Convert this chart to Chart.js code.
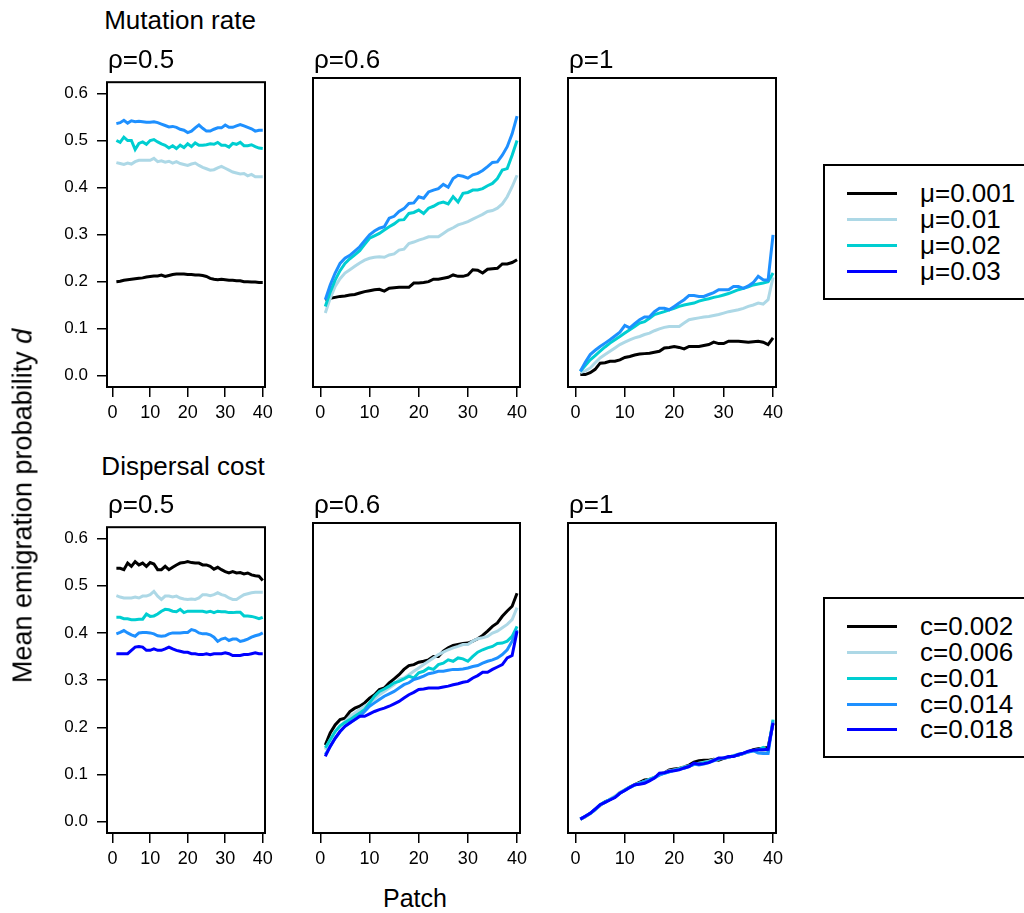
<!DOCTYPE html>
<html>
<head>
<meta charset="utf-8">
<script src="https://cdn.jsdelivr.net/npm/chart.js@4.4.1/dist/chart.umd.min.js"></script>
<style>
    body { margin: 0; width: 1024px; height: 913px; overflow: hidden; background: #fff; position: relative;
           font-family: "Liberation Sans", Arial, sans-serif; color: #000; }
    canvas { position: absolute; }
    .t { position: absolute; white-space: nowrap; line-height: 1; }
    .legend { position: absolute; border: 2px solid #000; box-sizing: border-box; background: #fff; }
    .legend .ln { position: absolute; height: 3px; }
</style>
</head>
<body>
<script>
// x values (patch number) and tick labels
const patches = [1,2,3,4,5,6,7,8,9,10,11,12,13,14,15,16,17,18,19,20,
                 21,22,23,24,25,26,27,28,29,30,31,32,33,34,35,36,37,38,39,40];
const xTicks = [0, 10, 20, 30, 40];
const yTicks = [0, 0.1, 0.2, 0.3, 0.4, 0.5, 0.6];
const rhoLabels = ['ρ=0.5', 'ρ=0.6', 'ρ=1'];

// legends
const mutLabels = ['μ=0.001', 'μ=0.01', 'μ=0.02', 'μ=0.03'];
const mutColors = ['#000000', '#ADD8E6', '#00CED1', '#1E90FF'];
const mutLegendColors = ['#000000', '#ADD8E6', '#00CED1', '#0000FF'];
const costLabels = ['c=0.002', 'c=0.006', 'c=0.01', 'c=0.014', 'c=0.018'];
const costColors = ['#000000', '#ADD8E6', '#00CED1', '#1E90FF', '#0000FF'];

// Mutation rate, rho = 0.5
const mutR05Black = [0.200,0.201,0.203,0.204,0.205,0.206,0.207,0.208,0.210,0.211,0.212,0.212,0.214,0.211,0.213,0.215,0.216,0.216,0.216,0.215,
                     0.215,0.214,0.214,0.213,0.211,0.207,0.205,0.204,0.205,0.204,0.203,0.203,0.202,0.202,0.200,0.200,0.199,0.199,0.198,0.198];
const mutR05Light = [0.453,0.451,0.449,0.452,0.450,0.455,0.458,0.458,0.458,0.458,0.462,0.455,0.457,0.454,0.456,0.452,0.455,0.451,0.449,0.447,
                     0.450,0.452,0.447,0.443,0.440,0.437,0.438,0.442,0.445,0.441,0.437,0.433,0.431,0.429,0.430,0.425,0.428,0.423,0.423,0.423];
const mutR05Turq = [0.500,0.496,0.507,0.500,0.500,0.481,0.494,0.497,0.492,0.500,0.502,0.497,0.493,0.490,0.484,0.489,0.483,0.490,0.485,0.493,
                    0.487,0.495,0.490,0.490,0.491,0.493,0.492,0.496,0.490,0.490,0.486,0.494,0.492,0.496,0.489,0.489,0.491,0.487,0.484,0.483];
const mutR05Dodger = [0.536,0.538,0.543,0.537,0.542,0.540,0.541,0.540,0.539,0.539,0.540,0.538,0.535,0.532,0.529,0.530,0.528,0.524,0.522,0.517,
                      0.520,0.527,0.533,0.526,0.520,0.520,0.524,0.527,0.527,0.533,0.528,0.528,0.531,0.534,0.531,0.528,0.525,0.520,0.522,0.522];

// Mutation rate, rho = 0.6
const mutR06Black = [0.159,0.162,0.164,0.166,0.167,0.169,0.170,0.173,0.176,0.178,0.180,0.181,0.177,0.183,0.184,0.185,0.185,0.185,0.194,0.194,
                     0.195,0.197,0.202,0.202,0.204,0.206,0.211,0.208,0.208,0.211,0.222,0.221,0.215,0.223,0.224,0.225,0.234,0.234,0.237,0.243];
const mutR06Light = [0.131,0.162,0.187,0.203,0.215,0.222,0.229,0.236,0.242,0.246,0.248,0.249,0.248,0.253,0.255,0.263,0.265,0.277,0.280,0.284,
                     0.287,0.291,0.291,0.291,0.298,0.305,0.310,0.316,0.319,0.323,0.328,0.333,0.338,0.344,0.346,0.351,0.360,0.375,0.396,0.420];
const mutR06Turq = [0.145,0.175,0.200,0.220,0.235,0.245,0.253,0.262,0.275,0.288,0.293,0.298,0.305,0.312,0.318,0.326,0.327,0.340,0.342,0.347,
                    0.340,0.351,0.355,0.361,0.364,0.360,0.375,0.364,0.382,0.384,0.389,0.389,0.392,0.398,0.403,0.413,0.431,0.434,0.462,0.493];
const mutR06Dodger = [0.159,0.190,0.215,0.235,0.246,0.252,0.261,0.270,0.283,0.295,0.303,0.309,0.312,0.330,0.334,0.344,0.350,0.361,0.362,0.375,
                      0.372,0.385,0.389,0.392,0.401,0.395,0.413,0.420,0.418,0.414,0.421,0.424,0.430,0.438,0.447,0.448,0.462,0.480,0.507,0.544];

// Mutation rate, rho = 1
const mutR1Black = [0.002,0.002,0.006,0.013,0.026,0.027,0.030,0.030,0.033,0.038,0.040,0.043,0.045,0.046,0.047,0.049,0.051,0.058,0.059,0.061,
                    0.059,0.056,0.061,0.061,0.061,0.063,0.065,0.070,0.067,0.067,0.072,0.072,0.072,0.071,0.070,0.071,0.072,0.070,0.065,0.079];
const mutR1Light = [0.006,0.010,0.016,0.027,0.037,0.044,0.051,0.058,0.065,0.070,0.075,0.079,0.082,0.086,0.089,0.094,0.098,0.101,0.103,0.103,
                    0.103,0.110,0.117,0.119,0.121,0.123,0.124,0.126,0.128,0.131,0.134,0.136,0.138,0.141,0.145,0.148,0.152,0.150,0.159,0.206];
const mutR1Turq = [0.009,0.021,0.033,0.042,0.051,0.060,0.068,0.075,0.082,0.089,0.096,0.103,0.110,0.113,0.120,0.128,0.131,0.134,0.138,0.141,
                   0.145,0.148,0.150,0.152,0.156,0.159,0.161,0.164,0.166,0.169,0.172,0.176,0.180,0.183,0.186,0.190,0.192,0.194,0.197,0.215];
const mutR1Dodger = [0.009,0.028,0.044,0.053,0.061,0.068,0.075,0.083,0.091,0.105,0.100,0.109,0.117,0.123,0.123,0.134,0.141,0.141,0.138,0.145,
                     0.152,0.159,0.168,0.168,0.166,0.166,0.170,0.174,0.180,0.180,0.180,0.187,0.187,0.183,0.188,0.195,0.208,0.201,0.200,0.295];

// Dispersal cost, rho = 0.5
const costR05Black = [0.537,0.537,0.534,0.548,0.541,0.551,0.544,0.548,0.541,0.549,0.546,0.534,0.534,0.541,0.534,0.539,0.544,0.548,0.549,0.551,
                      0.549,0.548,0.548,0.544,0.544,0.541,0.535,0.539,0.534,0.530,0.527,0.530,0.527,0.528,0.525,0.527,0.523,0.521,0.520,0.511];
const costR05Light = [0.479,0.476,0.474,0.474,0.474,0.476,0.474,0.478,0.478,0.481,0.488,0.478,0.471,0.478,0.478,0.476,0.478,0.474,0.472,0.471,
                      0.472,0.471,0.474,0.481,0.481,0.479,0.481,0.485,0.481,0.479,0.474,0.471,0.471,0.476,0.481,0.483,0.485,0.486,0.486,0.486];
const costR05Turq = [0.433,0.433,0.430,0.430,0.428,0.428,0.429,0.429,0.440,0.435,0.436,0.440,0.446,0.450,0.449,0.446,0.445,0.450,0.443,0.446,
                     0.446,0.446,0.446,0.446,0.444,0.446,0.443,0.446,0.445,0.445,0.443,0.443,0.444,0.444,0.436,0.436,0.435,0.433,0.430,0.433];
const costR05Dodger = [0.398,0.401,0.405,0.400,0.396,0.393,0.400,0.401,0.401,0.400,0.398,0.394,0.393,0.394,0.398,0.400,0.400,0.400,0.401,0.401,
                       0.407,0.405,0.400,0.398,0.398,0.396,0.391,0.382,0.387,0.389,0.384,0.387,0.387,0.382,0.384,0.387,0.391,0.394,0.396,0.400];
const costR05Blue = [0.356,0.356,0.356,0.356,0.363,0.370,0.371,0.370,0.363,0.363,0.366,0.363,0.363,0.366,0.370,0.366,0.363,0.361,0.359,0.359,
                     0.356,0.356,0.354,0.354,0.356,0.354,0.356,0.356,0.356,0.358,0.356,0.352,0.352,0.352,0.354,0.354,0.356,0.358,0.356,0.356];

// Dispersal cost, rho = 0.6
const costR06Black = [0.160,0.185,0.202,0.213,0.216,0.230,0.237,0.241,0.248,0.258,0.265,0.276,0.279,0.290,0.298,0.307,0.318,0.326,0.328,0.333,
                      0.335,0.338,0.345,0.345,0.356,0.363,0.368,0.370,0.372,0.373,0.377,0.382,0.389,0.398,0.408,0.415,0.429,0.440,0.450,0.477];
const costR06Light = [0.150,0.171,0.188,0.199,0.209,0.220,0.227,0.234,0.241,0.248,0.256,0.265,0.272,0.279,0.286,0.297,0.300,0.307,0.314,0.321,
                      0.328,0.335,0.342,0.349,0.354,0.359,0.363,0.366,0.370,0.370,0.377,0.382,0.384,0.387,0.394,0.398,0.405,0.412,0.422,0.447];
const costR06Turq = [0.154,0.171,0.188,0.200,0.207,0.213,0.220,0.227,0.234,0.248,0.262,0.272,0.277,0.283,0.290,0.293,0.298,0.304,0.300,0.311,
                     0.314,0.321,0.318,0.328,0.331,0.338,0.335,0.342,0.340,0.335,0.345,0.354,0.359,0.363,0.366,0.372,0.373,0.377,0.387,0.408];
const costR06Dodger = [0.140,0.157,0.174,0.188,0.199,0.207,0.213,0.220,0.230,0.241,0.248,0.255,0.262,0.267,0.272,0.279,0.286,0.290,0.297,0.300,
                       0.304,0.309,0.311,0.314,0.314,0.316,0.318,0.318,0.319,0.321,0.324,0.326,0.331,0.335,0.338,0.342,0.349,0.359,0.377,0.401];
const costR06Blue = [0.136,0.157,0.174,0.188,0.199,0.206,0.213,0.220,0.220,0.225,0.230,0.234,0.237,0.241,0.246,0.251,0.258,0.265,0.270,0.276,
                     0.277,0.279,0.279,0.279,0.281,0.283,0.286,0.288,0.291,0.293,0.300,0.305,0.312,0.312,0.318,0.323,0.328,0.342,0.347,0.398];

// Dispersal cost, rho = 1
const costR1Black = [0.005,0.010,0.017,0.025,0.034,0.041,0.046,0.052,0.060,0.066,0.072,0.077,0.082,0.087,0.088,0.092,0.098,0.102,0.108,0.110,
                     0.111,0.114,0.118,0.124,0.127,0.128,0.128,0.130,0.128,0.132,0.135,0.137,0.139,0.142,0.146,0.150,0.152,0.153,0.155,0.205];
const costR1Light = [0.005,0.010,0.016,0.024,0.034,0.040,0.047,0.053,0.061,0.066,0.072,0.077,0.080,0.083,0.088,0.093,0.097,0.102,0.106,0.108,
                     0.110,0.114,0.116,0.119,0.122,0.124,0.126,0.129,0.131,0.133,0.135,0.138,0.141,0.142,0.145,0.148,0.150,0.147,0.147,0.212];
const costR1Turq = [0.005,0.011,0.017,0.025,0.035,0.041,0.046,0.051,0.059,0.066,0.072,0.076,0.080,0.084,0.088,0.092,0.098,0.101,0.104,0.107,
                    0.110,0.113,0.116,0.119,0.121,0.123,0.125,0.128,0.130,0.133,0.135,0.137,0.140,0.143,0.146,0.148,0.150,0.155,0.148,0.213];
const costR1Dodger = [0.005,0.011,0.017,0.026,0.035,0.040,0.046,0.051,0.059,0.065,0.071,0.076,0.080,0.084,0.087,0.091,0.097,0.101,0.104,0.107,
                      0.109,0.111,0.115,0.120,0.118,0.120,0.123,0.127,0.131,0.132,0.134,0.137,0.139,0.142,0.145,0.148,0.143,0.142,0.142,0.209];
const costR1Blue = [0.005,0.011,0.017,0.026,0.035,0.040,0.045,0.050,0.059,0.065,0.071,0.077,0.078,0.080,0.085,0.091,0.101,0.102,0.105,0.106,
                    0.108,0.112,0.115,0.122,0.120,0.121,0.123,0.128,0.133,0.133,0.136,0.136,0.140,0.143,0.147,0.149,0.150,0.150,0.151,0.206];

// panel boxes in page pixels: rows (top, bottom) and columns (left, right)
const rowBoxes = [[78, 387], [523, 833]];
const colBoxes = [[107, 265], [313, 520], [568, 776]];
const FONT = '"Liberation Sans", Arial, sans-serif';

// draws the R-style frame round the plot region
const boxPlugin = {
    id: 'frameBox',
    afterDatasetsDraw(chart) {
        const { ctx, chartArea: a } = chart;
        ctx.save();
        ctx.strokeStyle = '#000';
        ctx.lineWidth = 2;
        ctx.strokeRect(a.left, a.top, a.right - a.left, a.bottom - a.top);
        ctx.restore();
    }
};

function makePanel(row, col, series, colors) {
    const [top, bottom] = rowBoxes[row];
    const [left, right] = colBoxes[col];
    const showY = col === 0;
    const yW = showY ? 70 : 0;
    const padL = 15, padR = 15, padT = 15, xH = 45;
    const cw = (right - left) + yW + padL + padR;
    const ch = (bottom - top) + padT + xH;

    const canvas = document.createElement('canvas');
    canvas.width = cw;
    canvas.height = ch;
    canvas.style.left = (left - yW - padL) + 'px';
    canvas.style.top = (top - padT) + 'px';
    document.body.appendChild(canvas);

    const tickGrid = { drawOnChartArea: false, drawTicks: true, tickLength: 10, color: '#000', lineWidth: 1.5 };

    new Chart(canvas, {
        type: 'line',
        data: {
            datasets: series.map((s, i) => ({
                data: s.map((v, j) => ({ x: patches[j], y: v })),
                borderColor: colors[i],
                borderWidth: 3,
                pointRadius: 0,
                tension: 0,
                order: -i
            }))
        },
        options: {
            responsive: false,
            animation: false,
            events: [],
            layout: { padding: { left: padL, right: padR, top: padT, bottom: 0 } },
            plugins: { legend: { display: false }, tooltip: { enabled: false } },
            scales: {
                x: {
                    type: 'linear',
                    min: -1.5,
                    max: 40.6,
                    afterBuildTicks: s => { s.ticks = xTicks.map(v => ({ value: v })); },
                    afterFit: s => { s.height = xH; },
                    grid: tickGrid,
                    border: { display: false },
                    ticks: { color: '#000', padding: 5, maxRotation: 0, autoSkip: false,
                             font: { family: FONT, size: 18 } }
                },
                y: {
                    display: showY,
                    min: -0.024,
                    max: 0.624,
                    afterBuildTicks: s => { s.ticks = yTicks.map(v => ({ value: v })); },
                    afterFit: s => { s.width = yW; },
                    grid: tickGrid,
                    border: { display: false },
                    ticks: { color: '#000', padding: 9, autoSkip: false,
                             font: { family: FONT, size: 17 },
                             callback: v => v.toFixed(1) }
                }
            }
        },
        plugins: [boxPlugin]
    });
}

// text placed by its baseline
function addText(html, x, baseline, size, align) {
    const d = document.createElement('div');
    d.className = 't';
    d.innerHTML = html;
    d.style.fontSize = size + 'px';
    d.style.top = (baseline - 0.8465 * size) + 'px';
    d.style.left = x + 'px';
    if (align === 'center') d.style.transform = 'translateX(-50%)';
    document.body.appendChild(d);
    return d;
}

function addLegend(top, height, lineYs, labels, colors) {
    const box = document.createElement('div');
    box.className = 'legend';
    box.style.left = '823px';
    box.style.top = top + 'px';
    box.style.width = '215px';
    box.style.height = height + 'px';
    labels.forEach((lab, i) => {
        const ln = document.createElement('div');
        ln.className = 'ln';
        ln.style.left = '22px';
        ln.style.width = '50px';
        ln.style.top = (lineYs[i] - top - 2 - 1.5) + 'px';
        ln.style.background = colors[i];
        box.appendChild(ln);
        const t = document.createElement('div');
        t.className = 't';
        t.textContent = lab;
        t.style.fontSize = '26px';
        t.style.left = '95px';
        t.style.top = (lineYs[i] - top - 2 - 13) + 'px';
        box.appendChild(t);
    });
    document.body.appendChild(box);
}

// panels
makePanel(0, 0, [mutR05Black, mutR05Light, mutR05Turq, mutR05Dodger], mutColors);
makePanel(0, 1, [mutR06Black, mutR06Light, mutR06Turq, mutR06Dodger], mutColors);
makePanel(0, 2, [mutR1Black, mutR1Light, mutR1Turq, mutR1Dodger], mutColors);
makePanel(1, 0, [costR05Black, costR05Light, costR05Turq, costR05Dodger, costR05Blue], costColors);
makePanel(1, 1, [costR06Black, costR06Light, costR06Turq, costR06Dodger, costR06Blue], costColors);
makePanel(1, 2, [costR1Black, costR1Light, costR1Turq, costR1Dodger, costR1Blue], costColors);

// titles
addText('Mutation rate', 180, 29, 26, 'center');
addText('Dispersal cost', 183, 475, 26, 'center');
colBoxes.forEach((c, i) => {
    addText(rhoLabels[i], c[0] + 1, 68, 26);
    addText(rhoLabels[i], c[0] + 1, 513, 26);
});
addText('Patch', 415, 907, 25, 'center');

const yTitle = document.createElement('div');
yTitle.className = 't';
yTitle.innerHTML = 'Mean emigration probability <i>d</i>';
yTitle.style.fontSize = '27px';
yTitle.style.left = '23px';
yTitle.style.top = '506px';
yTitle.style.transform = 'translate(-50%, -50%) rotate(-90deg)';
document.body.appendChild(yTitle);

// legends
addLegend(164, 136, [193, 219, 245, 271], mutLabels, mutLegendColors);
addLegend(597, 161, [626, 652, 678, 704, 729], costLabels, costColors);
</script>
</body>
</html>
